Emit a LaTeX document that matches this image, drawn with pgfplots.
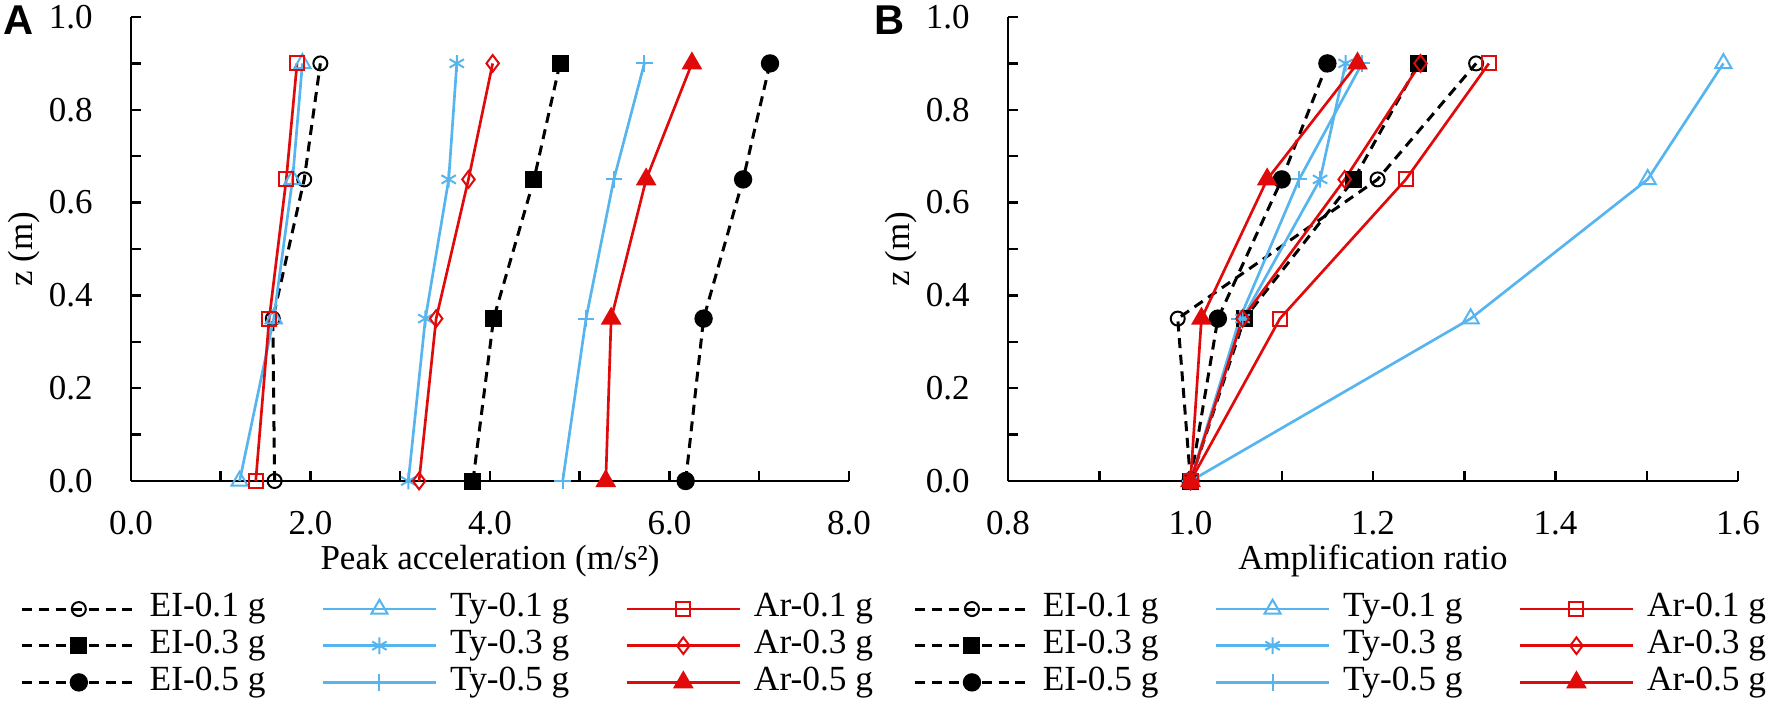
\documentclass[border=0pt]{standalone}
\usepackage{fontspec}
\setmainfont{Liberation Serif}
\newfontfamily\panelfont{Liberation Sans}
\usepackage{pgfplots}
\pgfplotsset{compat=1.18}
\definecolor{tyblue}{RGB}{86,180,238}
\definecolor{arred}{RGB}{225,10,10}

\pgfplotsset{
  myaxis/.style={
    scale only axis, height=139.2pt,
    ymin=0, ymax=1,
    axis lines=left, axis line style={-, line width=0.75pt, black},
    tick align=inside, major tick length=3pt, minor tick length=3pt,
    every tick/.style={black, line width=0.75pt},
    ytick={0,0.2,0.4,0.6,0.8,1.0}, minor ytick={0.1,0.3,0.5,0.7,0.9},
    /pgf/number format/fixed, /pgf/number format/fixed zerofill,
    /pgf/number format/precision=1, /pgf/number format/assume math mode=true,
    xticklabel={\pgfmathprintnumber{\tick}},
    yticklabel={\pgfmathprintnumber{\tick}},
    tick label style={font=\rmfamily\fontsize{10.5}{12}\selectfont},
    yticklabel style={xshift=-8pt},
    xticklabel style={yshift=-5.5pt},
    ylabel={z (m)},
    label style={font=\rmfamily\fontsize{10.5}{12}\selectfont},
    xlabel style={at={(axis description cs:0.5,0)}, anchor=center, yshift=-24pt},
    clip=false,
    legend columns=3, transpose legend,
    legend cell align=left,
    legend style={draw=none, fill=none, inner sep=0pt, anchor=north west,
      font=\rmfamily\fontsize{10.6}{12}\selectfont,
      /tikz/every even column/.append style={column sep=16pt},
      /tikz/every odd column/.append style={column sep=3pt},
      nodes={inner sep=0.8pt, text height=7pt, text depth=2.4pt}},
    legend image code/.code={\draw[mark repeat=2,mark phase=2,##1] plot coordinates {(0pt,0pt) (17pt,0pt) (34pt,0pt)};},
  },
  EI/.style={black, line width=0.9pt, dash pattern=on 3pt off 2pt},
  TY/.style={tyblue, line width=0.8pt},
  AR/.style={arred, line width=0.8pt},
}

\begin{document}
\begin{tikzpicture}[font=\rmfamily\fontsize{10.5}{12}\selectfont]
\path[use as bounding box] (0,0) rectangle (531.6pt,212.1pt);
\node[font=\panelfont\bfseries\fontsize{12.5}{14}\selectfont] at (5.6pt,206.1pt) {A};
\node[font=\panelfont\bfseries\fontsize{12.5}{14}\selectfont] at (267pt,206.1pt) {B};

\begin{axis}[myaxis, at={(39.3pt,67.8pt)}, anchor=south west, width=215.4pt,
  xmin=0, xmax=8, xtick={0,2,4,6,8}, minor xtick={1,3,5,7},
  xlabel={Peak acceleration (m/s²)},
  ylabel style={at={(axis description cs:-0.149,0.5)}, anchor=center},
  legend style={at={(axis description cs:-0.1546,-0.235)}}]
\addplot[EI, mark=o, mark size=2.1pt, mark options={solid, line width=0.6pt}] coordinates {(1.60,0) (1.58,0.35) (1.93,0.65) (2.11,0.9)};
\addplot[EI, mark=square*, mark size=2.1pt, mark options={solid}] coordinates {(3.81,0) (4.04,0.35) (4.49,0.65) (4.78,0.9)};
\addplot[EI, mark=*, mark size=2.3pt, mark options={solid}] coordinates {(6.18,0) (6.38,0.35) (6.82,0.65) (7.12,0.9)};
\addplot[TY, mark=triangle, mark size=2.8pt, mark options={solid, line width=0.6pt}] coordinates {(1.21,0) (1.59,0.35) (1.80,0.65) (1.91,0.9)};
\addplot[TY, mark=asterisk, mark size=2.5pt, mark options={solid, line width=0.6pt}] coordinates {(3.09,0) (3.28,0.35) (3.54,0.65) (3.63,0.9)};
\addplot[TY, mark=+, mark size=2.5pt, mark options={solid, line width=0.6pt}] coordinates {(4.81,0) (5.07,0.35) (5.38,0.65) (5.72,0.9)};
\addplot[AR, mark=square, mark size=2.1pt, mark options={solid, line width=0.6pt}] coordinates {(1.39,0) (1.54,0.35) (1.73,0.65) (1.85,0.9)};
\addplot[AR, mark=diamond, mark size=2.5pt, mark options={solid, line width=0.6pt}] coordinates {(3.21,0) (3.40,0.35) (3.76,0.65) (4.03,0.9)};
\addplot[AR, mark=triangle*, mark size=2.8pt, mark options={solid}] coordinates {(5.29,0) (5.35,0.35) (5.74,0.65) (6.25,0.9)};
\legend{EI-0.1 g, EI-0.3 g, EI-0.5 g, Ty-0.1 g, Ty-0.3 g, Ty-0.5 g, Ar-0.1 g, Ar-0.3 g, Ar-0.5 g}
\end{axis}

\begin{axis}[myaxis, at={(302.4pt,67.8pt)}, anchor=south west, width=219pt,
  xmin=0.8, xmax=1.6, xtick={0.8,1.0,1.2,1.4,1.6}, minor xtick={0.9,1.1,1.3,1.5},
  xlabel={Amplification ratio},
  ylabel style={at={(axis description cs:-0.146,0.5)}, anchor=center},
  legend style={at={(axis description cs:-0.130,-0.235)}}]
\addplot[EI, mark=o, mark size=2.1pt, mark options={solid, line width=0.6pt}] coordinates {(1,0) (0.986,0.35) (1.205,0.65) (1.313,0.9)};
\addplot[EI, mark=square*, mark size=2.1pt, mark options={solid}] coordinates {(1,0) (1.059,0.35) (1.179,0.65) (1.250,0.9)};
\addplot[EI, mark=*, mark size=2.3pt, mark options={solid}] coordinates {(1,0) (1.030,0.35) (1.100,0.65) (1.150,0.9)};
\addplot[TY, mark=triangle, mark size=2.8pt, mark options={solid, line width=0.6pt}] coordinates {(1,0) (1.307,0.35) (1.501,0.65) (1.584,0.9)};
\addplot[TY, mark=asterisk, mark size=2.5pt, mark options={solid, line width=0.6pt}] coordinates {(1,0) (1.057,0.35) (1.142,0.65) (1.170,0.9)};
\addplot[TY, mark=+, mark size=2.5pt, mark options={solid, line width=0.6pt}] coordinates {(1,0) (1.054,0.35) (1.119,0.65) (1.188,0.9)};
\addplot[AR, mark=square, mark size=2.1pt, mark options={solid, line width=0.6pt}] coordinates {(1,0) (1.098,0.35) (1.236,0.65) (1.327,0.9)};
\addplot[AR, mark=diamond, mark size=2.5pt, mark options={solid, line width=0.6pt}] coordinates {(1,0) (1.057,0.35) (1.169,0.65) (1.252,0.9)};
\addplot[AR, mark=triangle*, mark size=2.8pt, mark options={solid}] coordinates {(1,0) (1.012,0.35) (1.084,0.65) (1.183,0.9)};
\legend{EI-0.1 g, EI-0.3 g, EI-0.5 g, Ty-0.1 g, Ty-0.3 g, Ty-0.5 g, Ar-0.1 g, Ar-0.3 g, Ar-0.5 g}
\end{axis}
\end{tikzpicture}
\end{document}
